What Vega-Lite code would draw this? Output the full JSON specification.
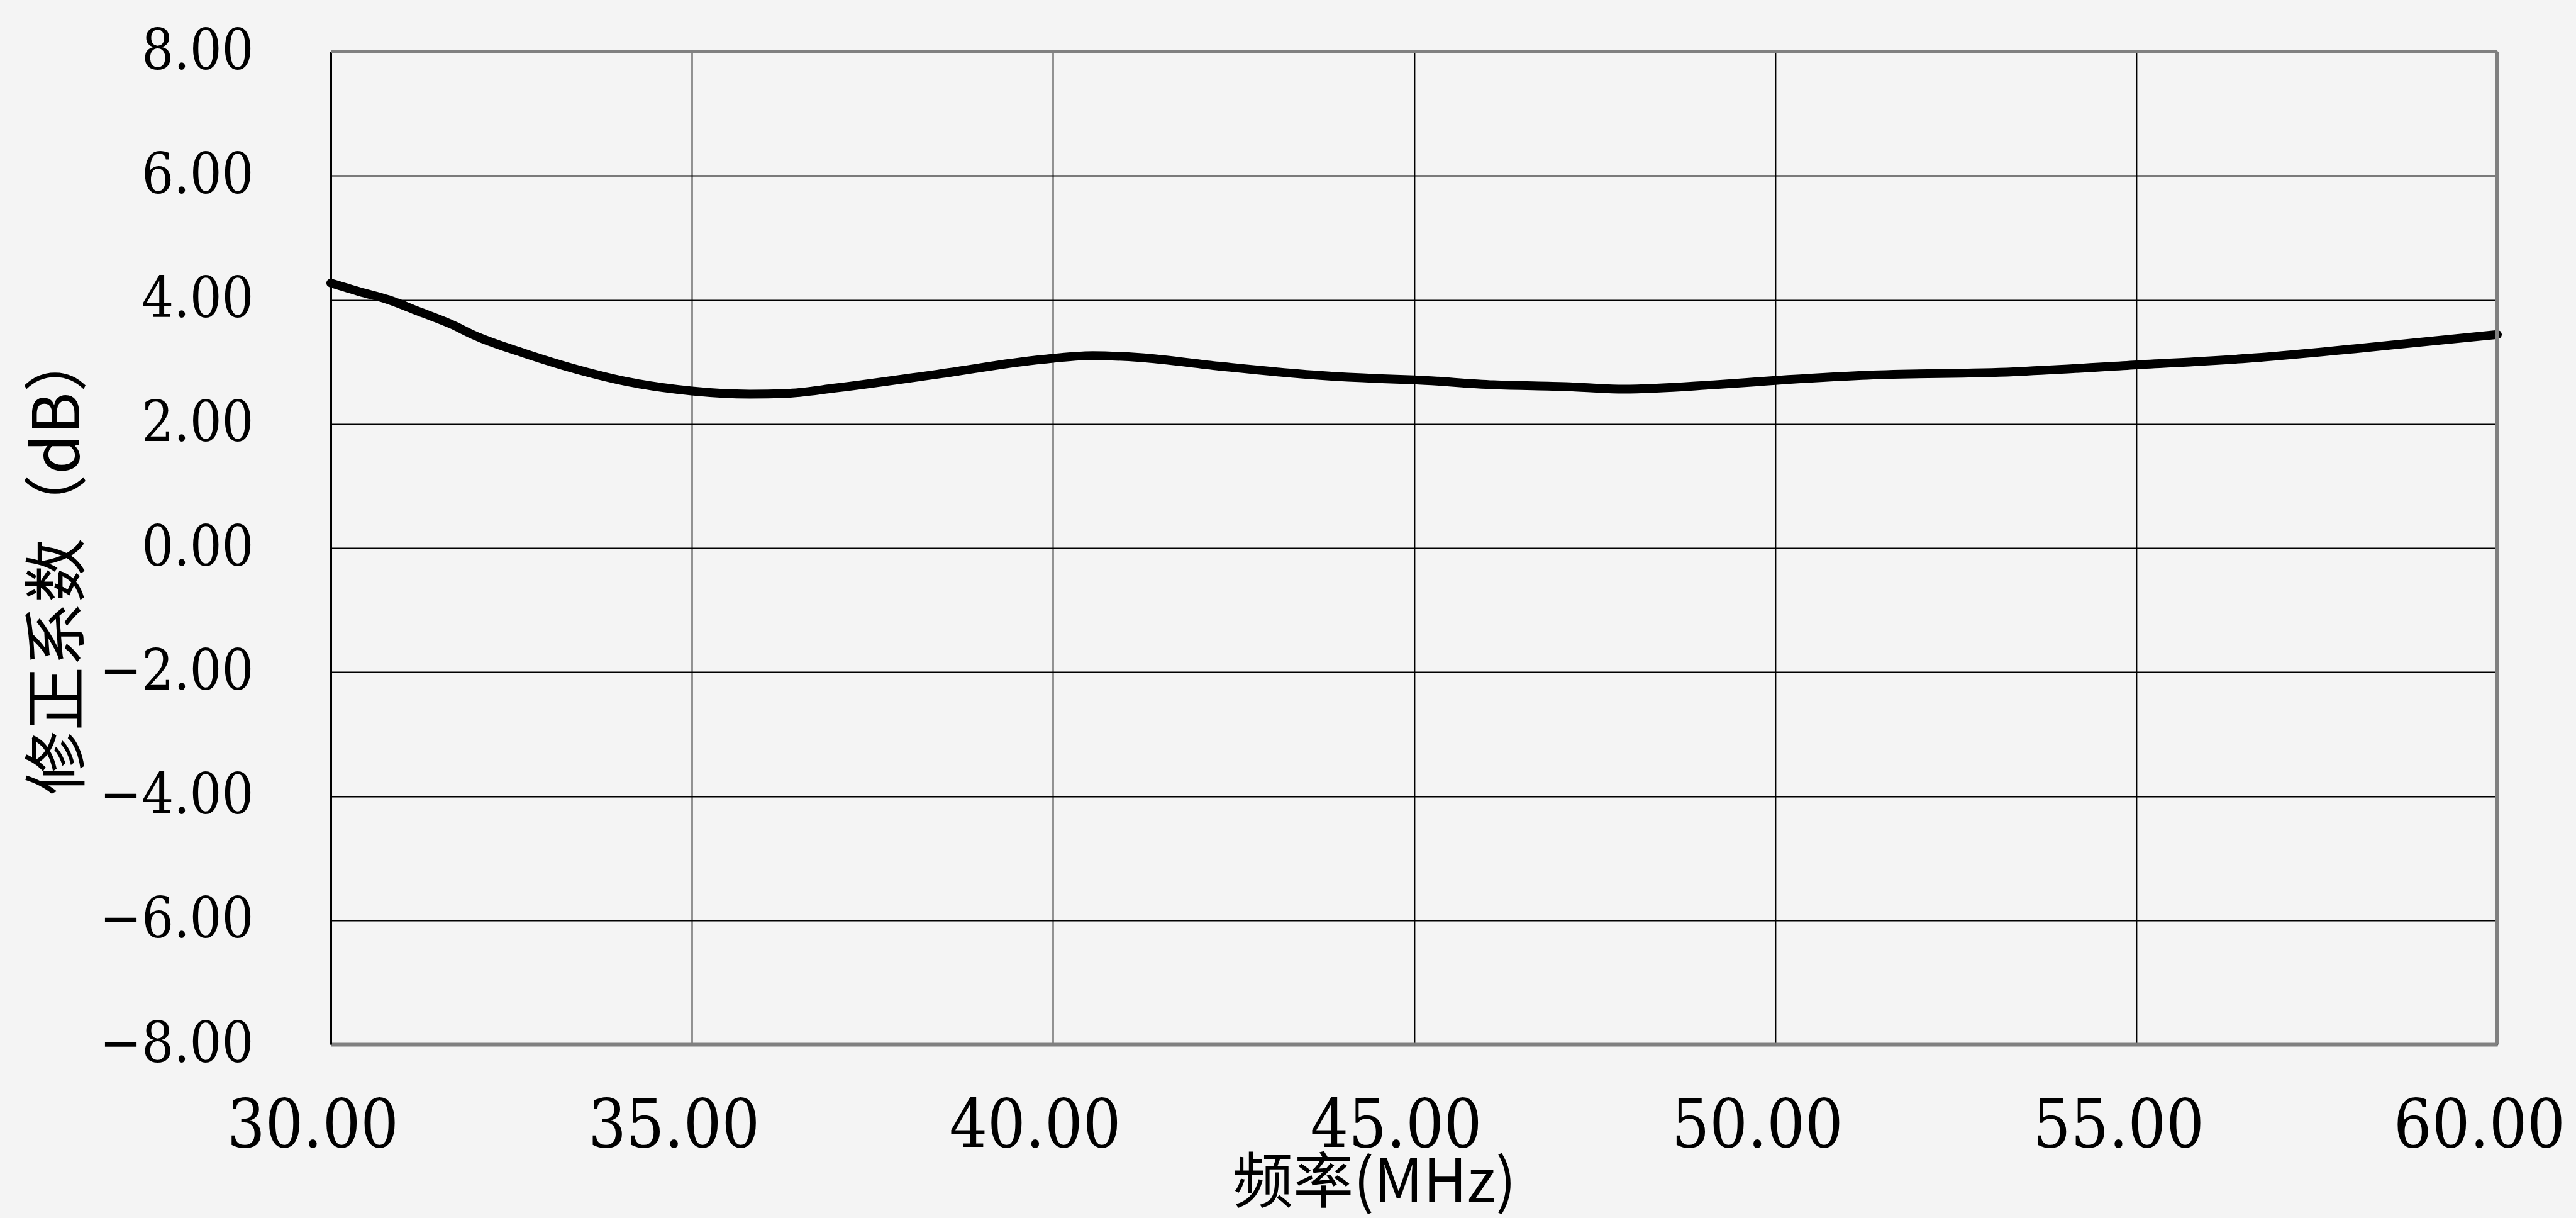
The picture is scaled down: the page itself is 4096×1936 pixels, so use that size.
{
  "$schema": "https://vega.github.io/schema/vega-lite/v6.json",
  "width": 3445,
  "height": 1578,
  "autosize": {"type": "none"},
  "padding": {"left": 526, "top": 82, "right": 125, "bottom": 276},
  "background": "#f4f4f4",
  "config": {"view": {"stroke": null}},
  "layer": [
    {
      "data": {
        "values": [
          {"f": 30.0, "v": 4.27},
          {"f": 30.4, "v": 4.13},
          {"f": 30.8, "v": 4.0},
          {"f": 31.2, "v": 3.82},
          {"f": 31.66, "v": 3.61},
          {"f": 32.0, "v": 3.42},
          {"f": 32.7, "v": 3.13},
          {"f": 33.4, "v": 2.88},
          {"f": 34.15, "v": 2.67},
          {"f": 35.0, "v": 2.53},
          {"f": 35.8, "v": 2.48},
          {"f": 36.3, "v": 2.49},
          {"f": 37.0, "v": 2.58},
          {"f": 38.4, "v": 2.8},
          {"f": 39.85, "v": 3.04},
          {"f": 40.55, "v": 3.1},
          {"f": 41.2, "v": 3.07},
          {"f": 42.3, "v": 2.93},
          {"f": 43.7, "v": 2.78},
          {"f": 44.5, "v": 2.73},
          {"f": 45.0, "v": 2.71},
          {"f": 46.1, "v": 2.63},
          {"f": 47.1, "v": 2.6},
          {"f": 47.9, "v": 2.56},
          {"f": 49.15, "v": 2.63},
          {"f": 50.0, "v": 2.7},
          {"f": 51.2, "v": 2.78},
          {"f": 53.3, "v": 2.84},
          {"f": 55.0, "v": 2.95},
          {"f": 56.7, "v": 3.07},
          {"f": 58.1, "v": 3.22},
          {"f": 60.0, "v": 3.44}
        ]
      },
      "mark": {"type": "line", "color": "#000000", "strokeWidth": 14, "interpolate": "monotone", "strokeCap": "round"},
      "encoding": {
        "x": {
          "field": "f",
          "type": "quantitative",
          "scale": {"domain": [30, 60], "nice": false, "zero": false},
          "axis": {
            "values": [30, 35, 40, 45, 50, 55, 60],
            "format": ".2f",
            "grid": true,
            "gridColor": "#000000",
            "gridWidth": 1.8,
            "gridOpacity": 1,
            "domainColor": "#808080",
            "domainWidth": 6,
            "ticks": false,
            "labelFont": "DejaVu Serif Condensed, DejaVu Serif",
            "labelFontSize": 106,
            "labelColor": "#000000",
            "labelPadding": 78,
            "labelOffset": -29,
            "labelLimit": 0,
            "labelFlush": false,
            "labelOverlap": false,
            "title": "频率(MHz)",
            "titleFont": "Noto Sans CJK SC",
            "titleFontSize": 96,
            "titleFontWeight": "normal",
            "titleColor": "#000000",
            "titleX": 1659,
            "titleY": 250,
            "titleBaseline": "alphabetic",
            "titleAlign": "center",
            "titleLimit": 0
          }
        },
        "y": {
          "field": "v",
          "type": "quantitative",
          "scale": {"domain": [-8, 8], "nice": false, "zero": false},
          "axis": {
            "values": [-8, -6, -4, -2, 0, 2, 4, 6, 8],
            "format": ".2f",
            "grid": true,
            "gridColor": "#000000",
            "gridWidth": 1.8,
            "gridOpacity": 1,
            "domainColor": "#000000",
            "domainWidth": 3,
            "ticks": false,
            "labelFont": "DejaVu Serif Condensed, DejaVu Serif",
            "labelFontSize": 89,
            "labelColor": "#000000",
            "labelPadding": 123,
            "labelDy": 6,
            "labelLimit": 0,
            "labelFlush": false,
            "labelOverlap": false,
            "title": "修正系数（dB）",
            "titleFont": "Noto Sans CJK SC",
            "titleFontSize": 102,
            "titleFontWeight": "normal",
            "titleColor": "#000000",
            "titleAngle": -90,
            "titleX": -432,
            "titleY": 810,
            "titleBaseline": "middle",
            "titleAlign": "center",
            "titleLimit": 0
          }
        }
      }
    },
    {
      "data": {"values": [{"edge": "top"}]},
      "mark": {"type": "rule", "color": "#808080", "strokeWidth": 6},
      "encoding": {"y": {"datum": 8}}
    },
    {
      "data": {"values": [{"edge": "right"}]},
      "mark": {"type": "rule", "color": "#808080", "strokeWidth": 6},
      "encoding": {"x": {"datum": 60}}
    }
  ]
}
